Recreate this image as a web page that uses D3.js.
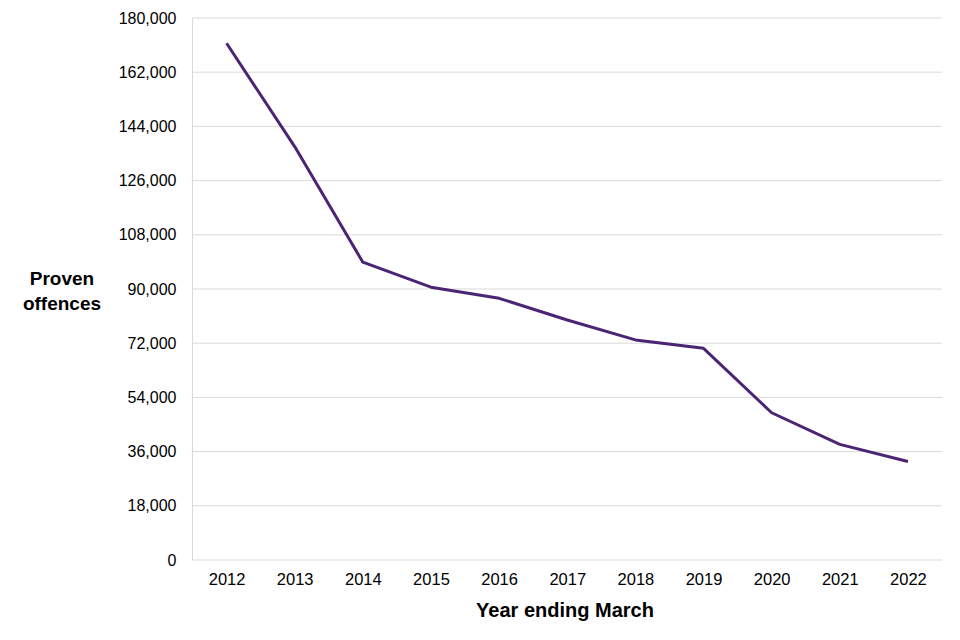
<!DOCTYPE html>
<html>
<head>
<meta charset="utf-8">
<script src="https://cdn.jsdelivr.net/npm/d3@7"></script>
<style>
  body { margin: 0; background: #fff; }
  svg { font-family: "Liberation Sans", Arial, sans-serif; }
</style>
</head>
<body>
<svg width="960" height="640"></svg>
<script>
// year ending March
const years = ['2012', '2013', '2014', '2015', '2016', '2017', '2018', '2019', '2020', '2021', '2022']
const offences = [171600, 137300, 98900, 90600, 86900, 79700, 73100, 70300, 48900, 38400, 32700]
const yTicks = [0, 18000, 36000, 54000, 72000, 90000, 108000, 126000, 144000, 162000, 180000]

const plotLeft = 192.5, plotRight = 942, plotTop = 18, plotBottom = 560

const svg = d3.select('svg')

const xScale = d3.scalePoint()
  .domain(years)
  .range([plotLeft, plotRight])
  .padding(0.5)

const yScale = d3.scaleLinear()
  .domain([0, 180000])
  .range([plotBottom, plotTop])

// gridlines
svg.append('g')
  .selectAll('line')
  .data(yTicks)
  .enter()
  .append('line')
  .attr('x1', plotLeft)
  .attr('x2', plotRight)
  .attr('y1', (d) => yScale(d))
  .attr('y2', (d) => yScale(d))
  .attr('stroke', '#d9d9d9')
  .attr('stroke-width', 1)

// left edge line
svg.append('line')
  .attr('x1', plotLeft).attr('x2', plotLeft)
  .attr('y1', plotTop).attr('y2', plotBottom)
  .attr('stroke', '#d9d9d9')

// y axis labels
const yAxis = svg.append('g')
  .attr('transform', `translate(${plotLeft}, 0)`)
  .call(d3.axisLeft(yScale).tickValues(yTicks).tickFormat(d3.format(',')).tickSize(0).tickPadding(16))
yAxis.select('.domain').remove()
yAxis.selectAll('text')
  .attr('font-size', 16)
  .attr('font-family', '"Liberation Sans", Arial, sans-serif')
  .attr('fill', '#000')

// x axis labels
const xAxis = svg.append('g')
  .attr('transform', `translate(0, ${plotBottom})`)
  .call(d3.axisBottom(xScale).tickSize(0).tickPadding(13))
xAxis.select('.domain').remove()
xAxis.selectAll('text')
  .attr('font-size', 16.5)
  .attr('font-family', '"Liberation Sans", Arial, sans-serif')
  .attr('fill', '#000')

// line
const line = d3.line()
  .x((d, i) => xScale(years[i]))
  .y((d) => yScale(d))

svg.append('path')
  .datum(offences)
  .attr('d', line)
  .attr('fill', 'none')
  .attr('stroke', '#4b2473')
  .attr('stroke-width', 3)
  .attr('stroke-linejoin', 'round')

// axis titles
svg.append('text')
  .attr('x', 62)
  .attr('y', 285)
  .attr('text-anchor', 'middle')
  .attr('font-size', 19)
  .attr('font-weight', 'bold')
  .text('Proven')
svg.append('text')
  .attr('x', 62)
  .attr('y', 310)
  .attr('text-anchor', 'middle')
  .attr('font-size', 19)
  .attr('font-weight', 'bold')
  .text('offences')

svg.append('text')
  .attr('x', 565)
  .attr('y', 617)
  .attr('text-anchor', 'middle')
  .attr('font-size', 20)
  .attr('font-weight', 'bold')
  .text('Year ending March')
</script>
</body>
</html>
